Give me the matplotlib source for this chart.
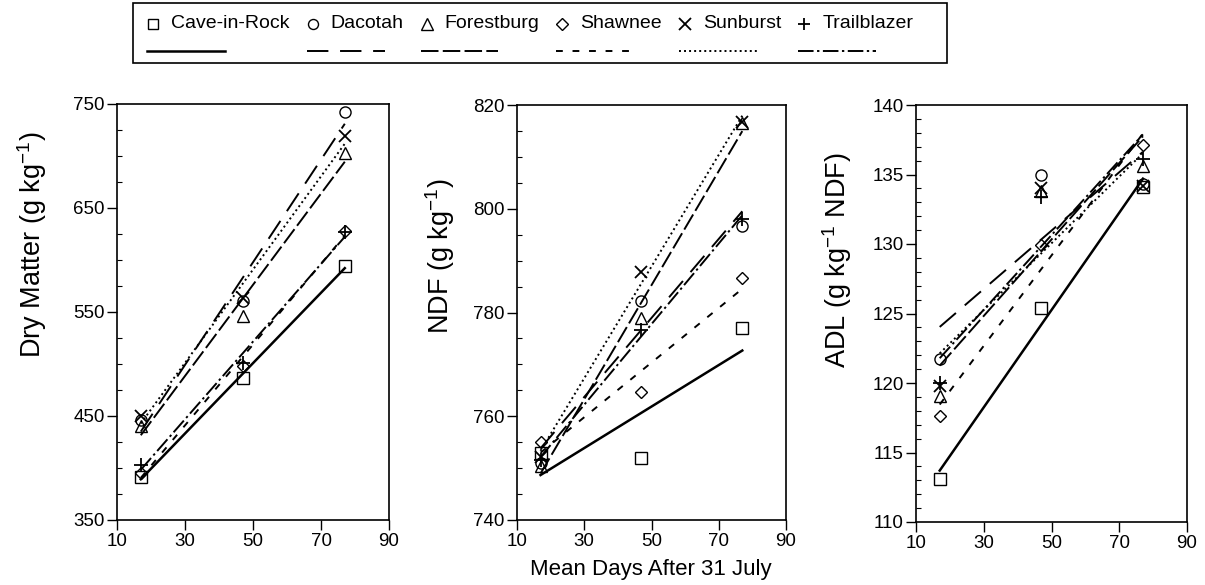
import numpy as np
import matplotlib
matplotlib.use("Agg")
from matplotlib import pyplot as plt
from matplotlib.lines import Line2D
from matplotlib.patches import Rectangle
from matplotlib.ticker import MultipleLocator

plt.rcParams['font.family'] = ['Liberation Sans', 'DejaVu Sans']
plt.rcParams['mathtext.fontset'] = 'custom'
plt.rcParams['mathtext.rm'] = 'Liberation Sans'
plt.rcParams['mathtext.it'] = 'Liberation Sans:italic'

# sampling dates (mean days after 31 July)
days = [17, 47, 77]
cultivars = ['Cave-in-Rock', 'Dacotah', 'Forestburg', 'Shawnee', 'Sunburst', 'Trailblazer']

# values per cultivar, same order as cultivars
dry_matter = [
    [391, 487, 594],
    [446, 561, 742],
    [440, 546, 703],
    [395, 498, 628],
    [450, 563, 719],
    [403, 501, 627],
]
ndf = [
    [753.0, 752.0, 777.0],
    [751.0, 782.3, 796.7],
    [750.5, 778.9, 816.5],
    [755.0, 764.7, 786.6],
    [752.2, 787.9, 816.8],
    [751.5, 776.7, 798.1],
]
adl = [
    [113.1, 125.4, 134.1],
    [121.7, 135.0, 134.3],
    [119.1, 133.8, 135.6],
    [117.6, 129.9, 137.1],
    [119.8, 134.0, 134.2],
    [120.0, 133.4, 136.1],
]

styles = {
    'Cave-in-Rock': dict(marker='s', ms=8, mew=1.0, ls='-', lw=1.8),
    'Dacotah': dict(marker='o', ms=8, mew=1.0, ls=(0, (11, 6)), lw=1.4),
    'Forestburg': dict(marker='^', ms=9, mew=1.0, ls=(0, (9, 2.2)), lw=1.4),
    'Shawnee': dict(marker='D', ms=6.5, mew=1.0, ls=(0, (3.5, 5)), lw=1.4),
    'Sunburst': dict(marker='x', ms=9, mew=1.3, ls=(0, (1, 1.6)), lw=1.4),
    'Trailblazer': dict(marker='+', ms=10, mew=1.3, ls=(0, (8, 1.8, 1.2, 1.8)), lw=1.4),
}

W, H = 1205, 585


def fig_rect(x0, y0, x1, y1):
    return [x0 / W, 1 - y1 / H, (x1 - x0) / W, (y1 - y0) / H]


fig = plt.figure(figsize=(W / 100, H / 100), dpi=100)

panels = [
    (dry_matter, (117, 104, 389, 520), (350, 750), np.arange(350, 751, 100), 25,
     'Dry Matter (g kg$^{-1}$)', (32, 245)),
    (ndf, (517, 105, 786, 520), (740, 820), np.arange(740, 821, 20), 5,
     'NDF (g kg$^{-1}$)', (440, 256)),
    (adl, (916, 105, 1187, 522), (110, 140), np.arange(110, 141, 5), 1,
     'ADL (g kg$^{-1}$ NDF)', (837, 260)),
]

for data, rect, ylim, yticks, minor, ylabel, lab_pos in panels:
    ax = fig.add_axes(fig_rect(*rect))
    for name, vals in zip(cultivars, data):
        st = styles[name]
        ax.plot(days, vals, linestyle='none', marker=st['marker'], ms=st['ms'],
                mew=st['mew'], mfc='none', mec='black', zorder=3)
        coef = np.polyfit(days, vals, 1)
        xs = np.array([days[0], days[-1]])
        ax.plot(xs, np.polyval(coef, xs), color='black', ls=st['ls'], lw=st['lw'])
    ax.set_xlim(10, 90)
    ax.set_xticks([10, 30, 50, 70, 90])
    ax.set_ylim(*ylim)
    ax.set_yticks(yticks)
    ax.yaxis.set_minor_locator(MultipleLocator(minor))
    ax.tick_params(axis='both', which='major', direction='out', length=7,
                   width=1, labelsize=13.5, pad=2)
    ax.tick_params(axis='y', which='minor', direction='in', length=3.5, width=0.8)
    for sp in ax.spines.values():
        sp.set_linewidth(1.2)
    fig.text(lab_pos[0] / W, 1 - lab_pos[1] / H, ylabel, rotation=90,
             ha='center', va='center', fontsize=19.5)

fig.text(651 / W, 1 - 570 / H, 'Mean Days After 31 July', ha='center',
         va='center', fontsize=16)

# legend box drawn by hand: marker + name on top, line sample below
box = Rectangle((133 / W, 1 - 63 / H), (947 - 133) / W, (63 - 3) / H,
                transform=fig.transFigure, fill=False, lw=1.2, ec='black')
fig.add_artist(box)
renderer = fig.canvas.get_renderer()
mx = 153
for name in cultivars:
    st = styles[name]
    fig.add_artist(Line2D([mx / W], [1 - 24 / H], marker=st['marker'],
                          ms=st['ms'] * 0.9, mew=st['mew'], mfc='none', mec='black',
                          transform=fig.transFigure))
    t = fig.text((mx + 18) / W, 1 - 24 / H, name, ha='left', va='center',
                 fontsize=14)
    fig.add_artist(Line2D([(mx - 6) / W, (mx + 72) / W], [1 - 51 / H] * 2,
                          color='black', ls=st['ls'], lw=st['lw'],
                          transform=fig.transFigure))
    width = t.get_window_extent(renderer).width
    mx = mx + 18 + width + 23

fig.savefig('out.png', dpi=100)
